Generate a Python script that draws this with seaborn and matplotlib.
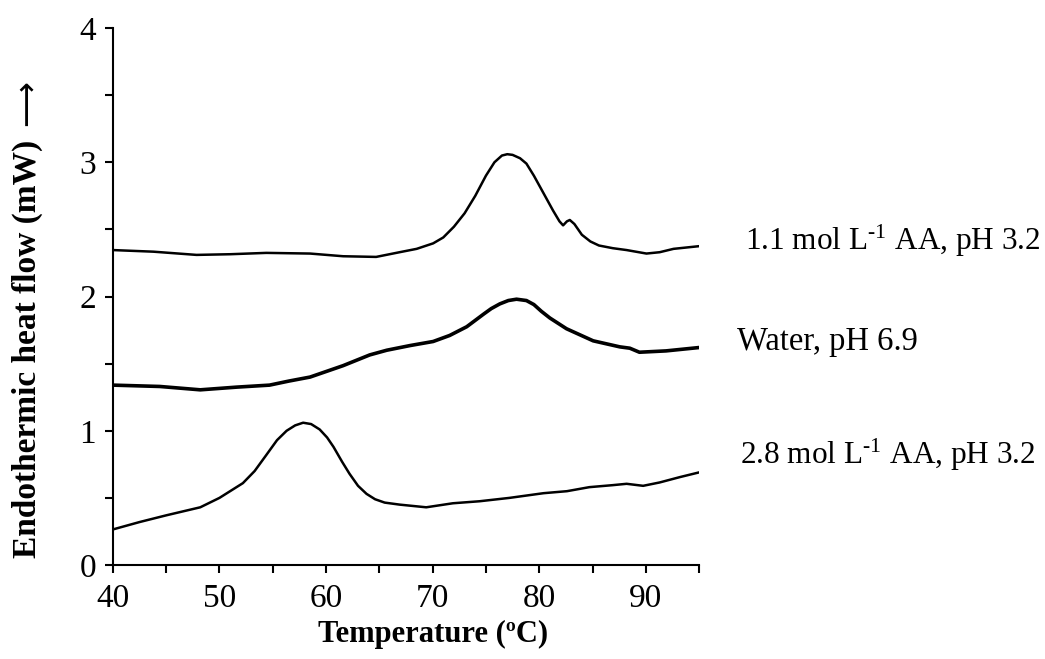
import matplotlib
matplotlib.use("Agg")
import matplotlib.pyplot as plt
import seaborn as sns
import pandas as pd
from matplotlib.ticker import MultipleLocator

# DSC thermograms (endothermic heat flow, mW) vs temperature (°C)
temp_aa11 = [40, 43.8, 47.85, 51, 54.4, 58.5, 61.6, 64.7, 66.9, 68.5, 70.05, 71, 72,
             73, 74, 75, 75.8, 76.5, 77, 77.5, 78.2, 78.8, 79.5, 80.4, 81.3, 81.9,
             82.24, 82.6, 82.87, 83.3, 84, 84.8, 85.6, 86.9, 88.2, 90.06, 91.3, 92.6, 95]
flow_aa11 = [2.346, 2.334, 2.31, 2.315, 2.325, 2.32, 2.30, 2.295, 2.33, 2.355, 2.396, 2.44, 2.52,
             2.62, 2.75, 2.90, 3.00, 3.05, 3.06, 3.055, 3.03, 2.99, 2.90, 2.77, 2.64, 2.56,
             2.53, 2.56, 2.57, 2.54, 2.46, 2.41, 2.38, 2.36, 2.346, 2.32, 2.33, 2.355, 2.375]

temp_water = [40, 44.4, 48.2, 51.6, 54.7, 56.5, 58.5, 61.6, 64.1, 65.7, 67.9, 70.05,
              71.6, 73.2, 74.8, 75.5, 76.3, 77.1, 77.87, 78.8, 79.5, 80.2, 81.0, 82.56,
              85.06, 87.56, 88.5, 89.4, 91.9, 95]
flow_water = [1.34, 1.33, 1.305, 1.325, 1.34, 1.37, 1.40, 1.485, 1.565, 1.60, 1.635, 1.665,
              1.71, 1.775, 1.87, 1.91, 1.945, 1.97, 1.98, 1.97, 1.94, 1.89, 1.84, 1.76,
              1.67, 1.625, 1.615, 1.585, 1.595, 1.62]

temp_aa28 = [40, 42.5, 45, 48.2, 50, 51, 52.2, 53.3, 54.4, 55.4, 56.3, 57.1, 57.85, 58.6,
             59.4, 60.1, 60.7, 61.5, 62.2, 63, 63.8, 64.6, 65.5, 66.9, 69.4, 71.9, 74.4,
             77.2, 80.4, 82.6, 84.7, 86.9, 88.2, 89.75, 91.3, 93.2, 95]
flow_aa28 = [0.265, 0.32, 0.37, 0.43, 0.50, 0.55, 0.61, 0.70, 0.82, 0.93, 1.00, 1.04, 1.06, 1.05,
             1.01, 0.95, 0.88, 0.77, 0.68, 0.59, 0.53, 0.49, 0.465, 0.45, 0.43, 0.46, 0.475,
             0.50, 0.535, 0.55, 0.58, 0.595, 0.605, 0.59, 0.615, 0.655, 0.69]

series_labels = [r"1.1 mol L$^{\text{-1}}$ AA, pH 3.2", "Water, pH 6.9",
                 r"2.8 mol L$^{\text{-1}}$ AA, pH 3.2"]
label_sizes = [22.5, 23.5, 22.5]
x_ticks = [40, 50, 60, 70, 80, 90]
y_ticks = [0, 1, 2, 3, 4]

sns.set_style("ticks")
plt.rcParams["font.family"] = ["Liberation Serif", "DejaVu Serif"]
plt.rcParams["mathtext.fontset"] = "custom"
plt.rcParams["mathtext.rm"] = "Liberation Serif"
plt.rcParams["mathtext.it"] = "Liberation Serif:italic"
plt.rcParams["mathtext.bf"] = "Liberation Serif:bold"

fig = plt.figure(figsize=(10.45, 6.59), dpi=100)
ax = fig.add_axes([0.108, 0.1426, 0.561, 0.8149])

curves = [
    (temp_aa11, flow_aa11, 1.8),
    (temp_water, flow_water, 2.6),
    (temp_aa28, flow_aa28, 1.8),
]
for tx, fy, lw in curves:
    df = pd.DataFrame({"T": tx, "Q": fy})
    sns.lineplot(data=df, x="T", y="Q", ax=ax, color="black", linewidth=lw,
                 sort=False, estimator=None, legend=False)

ax.set_xlim(40, 95)
ax.set_ylim(0, 4)
ax.set_xticks(x_ticks)
ax.set_yticks(y_ticks)
ax.xaxis.set_minor_locator(MultipleLocator(5))
ax.yaxis.set_minor_locator(MultipleLocator(0.5))
ax.tick_params(axis="both", which="both", direction="out", length=6, width=1.5,
               color="black", labelsize=24, labelcolor="black")
ax.tick_params(axis="x", pad=7)
ax.tick_params(axis="y", pad=6)
for side in ["top", "right"]:
    ax.spines[side].set_visible(False)
for side in ["left", "bottom"]:
    ax.spines[side].set_linewidth(1.5)
    ax.spines[side].set_color("black")

ax.set_xlabel("")
ax.set_ylabel("")
ax.text(70.0, -0.52, "Temperature (ºC)", ha="center", va="center",
        fontsize=22, fontweight="bold", color="black", clip_on=False)
fig.text(27 / 1045, 1 - 349 / 659, "Endothermic heat flow (mW)", rotation=90,
         ha="center", va="center", fontsize=24, fontweight="bold", color="black")
fig.text(27 / 1045, 1 - 103 / 659, "⟶", rotation=90, ha="center", va="center",
         fontsize=23, color="black", family=["DejaVu Sans"])

# Curve labels to the right of the plot
label_pos = [(99.3, 2.35), (98.6, 1.60), (98.8, 0.75)]
for (lx, ly), name, fs in zip(label_pos, series_labels, label_sizes):
    ax.text(lx, ly, name, ha="left", va="baseline", fontsize=fs,
            color="black", clip_on=False)

fig.savefig("out.png", dpi=100, facecolor="white")
